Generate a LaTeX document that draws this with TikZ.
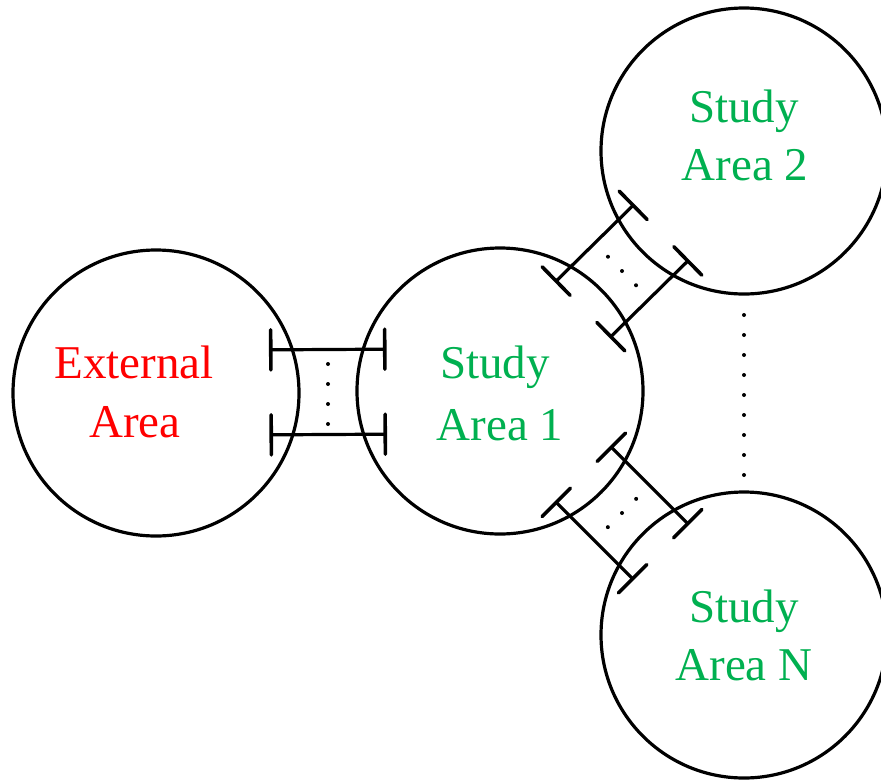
\documentclass[tikz,border=0pt]{standalone}
\usepackage{fontspec}
\setmainfont{Liberation Serif}
\usetikzlibrary{calc}
\definecolor{extred}{RGB}{255,0,0}
\definecolor{studygreen}{RGB}{0,176,80}

% Two parallel bounded lines joining areas #1 and #2:
% #3 half-length along the axis, #4 line offset, #5/#6 inner/outer bar offsets
\newcommand\arealink[6]{%
  \coordinate (#1-#2-m) at ($(#1)!0.5!(#2)$);
  \foreach \s in {90,-90} {
    \draw[linkline] ($(#1-#2-m)!#3!(#1)!#4!\s:(#1)$) -- ($(#1-#2-m)!-#3!(#1)!#4!\s:(#1)$);
    \draw[linkbar] ($(#1-#2-m)!#3!(#1)!#5!\s:(#1)$) -- ($(#1-#2-m)!#3!(#1)!#6!\s:(#1)$);
    \draw[linkbar] ($(#1-#2-m)!-#3!(#1)!#5!\s:(#1)$) -- ($(#1-#2-m)!-#3!(#1)!#6!\s:(#1)$);
  }%
}

\begin{document}
\begin{tikzpicture}[x=1pt,y=-1pt,
  area/.style={circle,draw=black,line width=3.2pt,minimum size=286pt,inner sep=0pt},
  lbl/.style={anchor=base,inner sep=0pt,font=\fontsize{47}{58}\selectfont},
  linkline/.style={draw=black,line width=3.2pt},
  linkbar/.style={draw=black,line width=3.6pt,line cap=round},
  dotmark/.style={fill=black}]
\useasboundingbox (0,0) rectangle (881,782);

% areas
\node[area] (ext) at (156,393) {};
\node[area] (s1) at (500,391) {};
\node[area] (s2) at (744,151) {};
\node[area] (sN) at (744,635) {};

% labels
\node[lbl,text=extred] (ext-a) at (134,378) {External};
\node[lbl,text=extred] (ext-b) at (135,437) {Area};
\node[lbl,text=studygreen] (s1-a) at (495,378) {Study};
\node[lbl,text=studygreen] (s1-b) at (500,440) {Area 1};
\node[lbl,text=studygreen] (s2-a) at (744,122) {Study};
\node[lbl,text=studygreen] (s2-b) at (745,180) {Area 2};
\node[lbl,text=studygreen] (sN-a) at (744,622) {Study};
\node[lbl,text=studygreen] (sN-b) at (744,680) {Area N};

% links between areas
\arealink{ext}{s1}{57pt}{42.5pt}{22.5pt}{62.5pt}
\arealink{s1}{s2}{54pt}{39pt}{19pt}{59pt}
\arealink{s1}{sN}{54pt}{39pt}{19pt}{59pt}

% dots inside the links
\foreach \d in {-30,-10,10,30}
  \fill[dotmark] ($(ext-s1-m)+(0,\d+2)$) circle (2);
\foreach \d in {-20,0,20}
  \fill[dotmark] ($(s1-s2-m)!\d pt!90:(s1)$) circle (2);
\foreach \d in {-20,0,20}
  \fill[dotmark] ($(s1-sN-m)!\d pt!90:(s1)$) circle (2);

% dotted continuation between the outer study areas
\coordinate (s2-sN-m) at ($(s2)!0.5!(sN)$);
\foreach \d in {-80,-60,...,80}
  \fill[dotmark] ($(s2-sN-m)+(0,\d+2)$) circle (2);
\end{tikzpicture}
\end{document}
